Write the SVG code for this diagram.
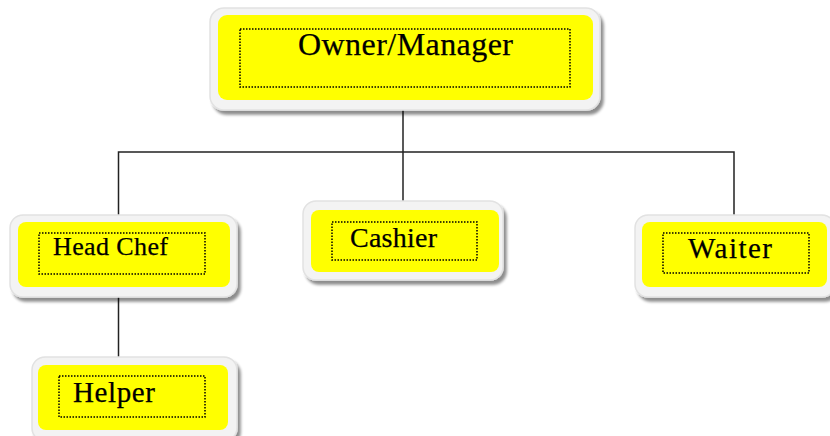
<svg xmlns="http://www.w3.org/2000/svg" width="830" height="436" viewBox="0 0 830 436">
<defs>
<filter id="sh" x="-10%" y="-20%" width="125%" height="150%">
<feGaussianBlur in="SourceAlpha" stdDeviation="1.5"/>
<feOffset dx="3" dy="4" result="o"/>
<feComponentTransfer><feFuncA type="linear" slope="0.45"/></feComponentTransfer>
<feMerge><feMergeNode/><feMergeNode in="SourceGraphic"/></feMerge>
</filter>
</defs>
<style>
.outer{fill:#f3f3f3;stroke:#e2e2e2;stroke-width:1.5;filter:url(#sh)}
.yel{fill:#ffff00}
.dot{fill:none;stroke:#000;stroke-width:1.5;stroke-dasharray:1.5 1.5}
.t{font-family:"Liberation Serif","Times New Roman",serif;fill:#000;stroke:#000;stroke-width:0.25}
.ln{stroke:#222;stroke-width:1.5;fill:none}
</style>
<rect width="830" height="436" fill="#fff"/>
<g id="connectors">
<polyline class="ln" points="403,103 403,207"/>
<polyline class="ln" points="118.5,221 118.5,152 734,152 734,219"/>
<polyline class="ln" points="118.5,290 118.5,362"/>
</g>
<g id="owner">
<rect class="outer" x="210" y="8" width="390" height="102" rx="14"/>
<rect class="yel" x="218" y="15" width="375" height="85" rx="9"/>
<rect class="dot" x="240" y="29" width="330" height="58"/>
<text class="t" x="298" y="55" font-size="32" textLength="215">Owner/Manager</text>
</g>
<g id="headchef">
<rect class="outer" x="10" y="215" width="227" height="82" rx="13"/>
<rect class="yel" x="18" y="222" width="212" height="65" rx="8"/>
<rect class="dot" x="39" y="233" width="166" height="41"/>
<text class="t" x="53" y="255" font-size="26" textLength="115">Head Chef</text>
</g>
<g id="cashier">
<rect class="outer" x="303" y="201" width="200" height="79" rx="13"/>
<rect class="yel" x="311" y="210" width="188" height="62" rx="8"/>
<rect class="dot" x="332" y="222" width="145" height="38"/>
<text class="t" x="350" y="247" font-size="28" textLength="87">Cashier</text>
</g>
<g id="waiter">
<rect class="outer" x="635" y="215" width="200" height="82" rx="13"/>
<rect class="yel" x="642" y="222" width="185" height="65" rx="8"/>
<rect class="dot" x="663" y="233" width="146" height="40"/>
<text class="t" x="688" y="258" font-size="29" textLength="84">Waiter</text>
</g>
<g id="helper">
<rect class="outer" x="32" y="357" width="205" height="84" rx="13"/>
<rect class="yel" x="38" y="365" width="190" height="65" rx="8"/>
<rect class="dot" x="59" y="376" width="146" height="41"/>
<text class="t" x="73" y="402" font-size="29" textLength="82">Helper</text>
</g>
</svg>
